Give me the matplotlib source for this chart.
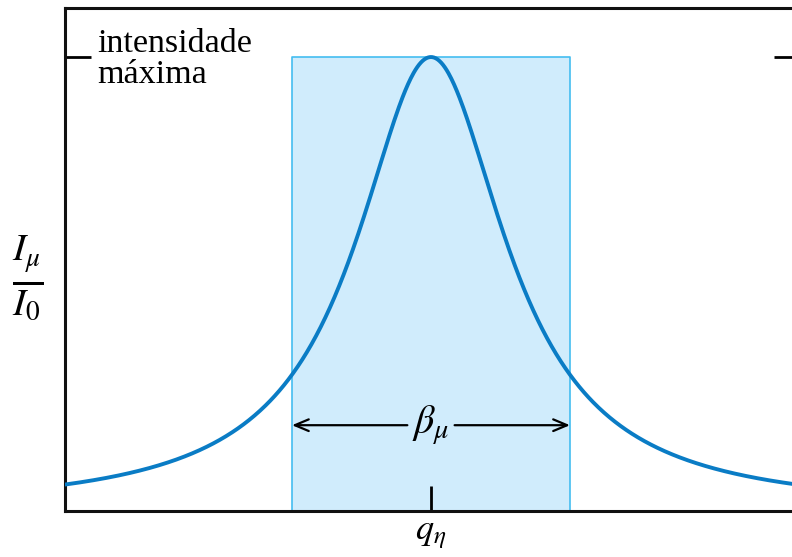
import numpy as np
import matplotlib
matplotlib.use("Agg")
import matplotlib.pyplot as plt

plt.rcParams["mathtext.fontset"] = "stix"
plt.rcParams["font.family"] = ["Liberation Serif", "DejaVu Serif"]

# Line profile parameters (in units of the band half-width)
peak_position = 0.0
peak_intensity = 1.0
half_width = 0.655          # Lorentzian half-width at half maximum
band_edges = [-1.0, 1.0]    # bandwidth interval beta_mu
x_range = [-2.633, 2.655]
y_range = [0.0, 1.108]
arrow_level = 0.189
label_lines = ["intensidade", "máxima"]

x = np.linspace(x_range[0], x_range[1], 800)
profile = peak_intensity / (1.0 + ((x - peak_position) / half_width) ** 2)

W, H = 792, 557
fig = plt.figure(figsize=(W / 100, H / 100), dpi=100)
ax = fig.add_axes([65 / W, 1 - 511 / H, (800 - 65) / W, (511 - 8) / H])
ax.set_xlim(*x_range)
ax.set_ylim(*y_range)

# shaded bandwidth
ax.fill_between(band_edges, 0, peak_intensity, color="#d0ecfc", zorder=1, lw=0)
ax.plot([band_edges[0], band_edges[0], band_edges[1], band_edges[1]],
        [0, peak_intensity, peak_intensity, 0], color="#44bdf0", lw=1.2, zorder=2)

ax.plot(x, profile, color="#0a7cc5", lw=2.8, zorder=3, solid_capstyle="round")

# spines
for s in ["left", "bottom", "top"]:
    ax.spines[s].set_linewidth(2.2)
    ax.spines[s].set_color("#111111")
ax.spines["right"].set_visible(False)

ax.set_xticks([peak_position])
ax.set_xticklabels([r"$q_\eta$"], fontsize=26)
ax.set_yticks([peak_intensity])
ax.set_yticklabels([""])
ax.tick_params(axis="x", direction="in", length=18, width=2, pad=5)
ax.tick_params(axis="y", direction="in", length=19, width=2, right=True)

# vertical axis label as a fraction
fig.text(28 / W, 1 - 278 / H, r"$\frac{I_\mu}{I_0}$", fontsize=40, ha="center", va="center")

# peak annotation, two lines placed on their baselines
ax.text(0.044, (511 - 52) / 503, label_lines[0], transform=ax.transAxes, fontsize=24.5,
        va="baseline", ha="left")
ax.text(0.044, (511 - 83) / 503, label_lines[1], transform=ax.transAxes, fontsize=24.5,
        va="baseline", ha="left")

# bandwidth arrows
ax.text(peak_position, arrow_level, r"$\beta_\mu$", fontsize=29, ha="center", va="center", zorder=5)
arrow_style = dict(arrowstyle="->,head_length=1.0,head_width=0.42", lw=1.6, color="black",
                   shrinkA=0, shrinkB=0)
ax.annotate("", xy=(band_edges[0], arrow_level), xytext=(-0.17, arrow_level),
            arrowprops=arrow_style, zorder=4)
ax.annotate("", xy=(band_edges[1], arrow_level), xytext=(0.17, arrow_level),
            arrowprops=arrow_style, zorder=4)

fig.savefig("out.png", dpi=100)
